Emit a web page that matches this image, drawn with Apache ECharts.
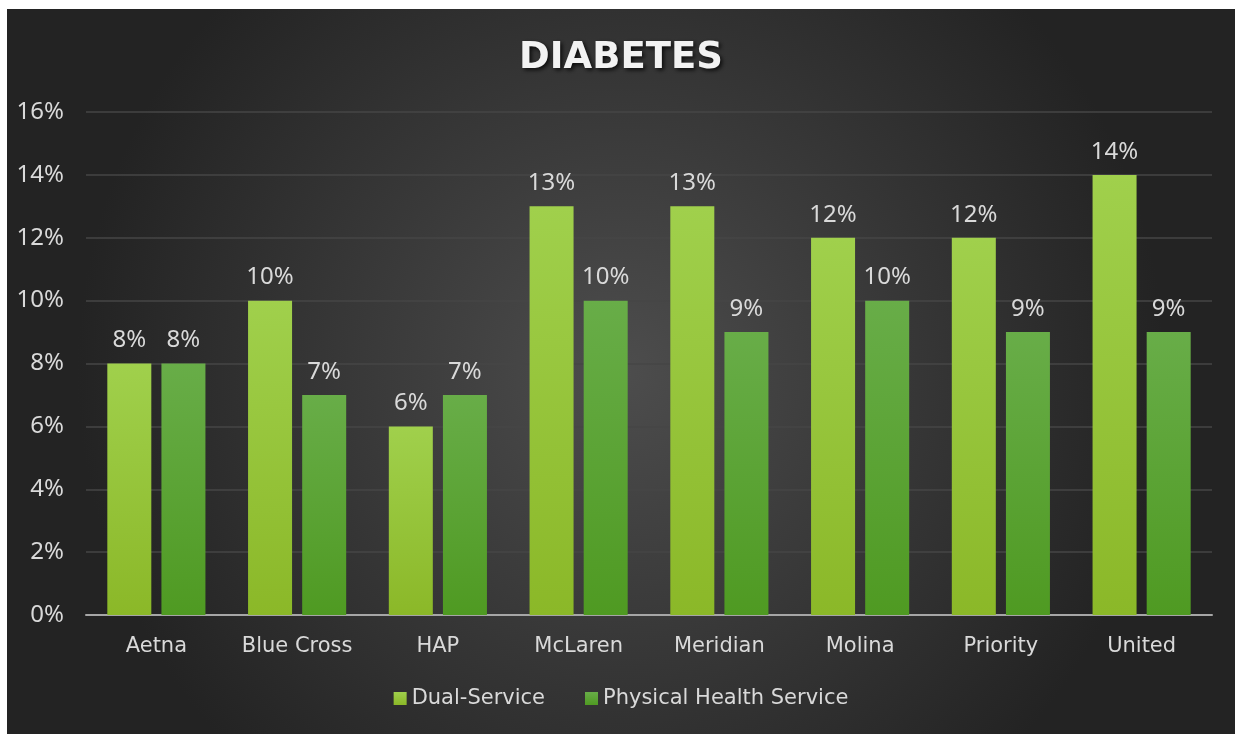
<!DOCTYPE html>
<html>
<head>
<meta charset="utf-8">
<script src="https://cdn.jsdelivr.net/npm/echarts@6/dist/echarts.min.js"></script>
<style>
html,body{margin:0;padding:0;background:#ffffff;width:1235px;height:734px;overflow:hidden;}
#chart{position:absolute;left:7px;top:9px;width:1228px;height:725px;}
</style>
</head>
<body>
<div id="chart"></div>
<script>
const categories = ['Aetna','Blue Cross','HAP','McLaren','Meridian','Molina','Priority','United'];
const dualService = [8,10,6,13,13,12,12,14];
const physicalHealth = [8,7,7,10,9,10,9,9];
const seriesNames = ['Dual-Service','Physical Health Service'];
const titleText = 'DIABETES';

const FONT = '"DejaVu Sans", sans-serif';
const NUMFONT = '"Liberation Sans Narrow", "Noto Sans", sans-serif';
const chart = echarts.init(document.getElementById('chart'));
const grad = (top, bottom) => new echarts.graphic.LinearGradient(0,0,0,1,[{offset:0,color:top},{offset:1,color:bottom}]);
const labelCfg = {show:true, position:'top', distance:11, color:'#d9d9d9', fontSize:24, fontFamily:NUMFONT, formatter: p => p.value + '%'};

chart.setOption({
  backgroundColor: new echarts.graphic.RadialGradient(0.5,0.5,0.75,[{offset:0,color:'#4d4d4d'},{offset:1,color:'#232323'}]),
  animation:false,
  title:{
    text:titleText, left:'center', top:26,
    textStyle:{color:'#f2f2f2', fontSize:37, fontWeight:'bold', fontFamily:FONT,
      textShadowColor:'rgba(0,0,0,0.8)', textShadowBlur:4, textShadowOffsetX:2, textShadowOffsetY:2}
  },
  legend:{
    data:seriesNames, left:'center', top:674, itemWidth:13, itemHeight:13, itemGap:40,
    icon:'rect',
    textStyle:{color:'#d9d9d9', fontSize:21, fontFamily:FONT}
  },
  grid:{left:79, right:23, top:103, bottom:119, containLabel:false},
  xAxis:{
    type:'category', data:categories,
    axisLine:{lineStyle:{color:'#a6a6a6', width:2}},
    axisTick:{show:false},
    axisLabel:{color:'#d9d9d9', fontSize:21, fontFamily:FONT, margin:21, interval:0}
  },
  yAxis:{
    type:'value', min:0, max:16, interval:2,
    axisLine:{show:false}, axisTick:{show:false},
    splitLine:{lineStyle:{color:'#464646', width:1.5}},
    axisLabel:{color:'#d9d9d9', fontSize:24, fontFamily:NUMFONT, margin:22, formatter: v => v + '%'}
  },
  series:[
    {name:seriesNames[0], type:'bar', data:dualService, barWidth:44, barGap:'23%',
     itemStyle:{color:grad('#a0d04c','#8bb828')}, label:labelCfg},
    {name:seriesNames[1], type:'bar', data:physicalHealth, barWidth:44,
     itemStyle:{color:grad('#68ad48','#4f9a22')}, label:labelCfg}
  ]
});
</script>
</body>
</html>
